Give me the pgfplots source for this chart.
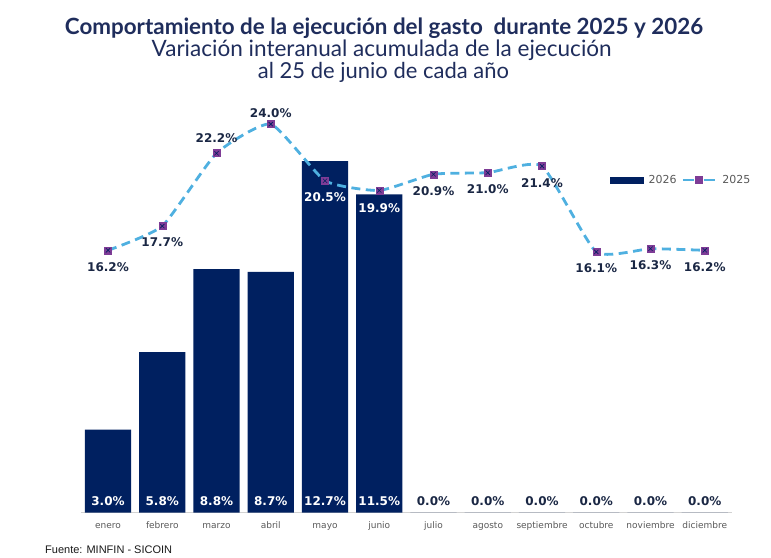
\documentclass[border=0pt]{standalone}
\usepackage{fontspec}
\setmainfont{DejaVu Sans}
\newfontfamily\latofont{Lato}
\newfontfamily\libsans{Liberation Sans}
\usepackage{pgfplots}
\pgfplotsset{compat=1.18}
\usepackage{pgfplotstable}

\definecolor{navy}{HTML}{002060}
\definecolor{titlecol}{HTML}{1F2D5C}
\definecolor{lineblue}{HTML}{4FB0E0}
\definecolor{mkpurple}{HTML}{7E3C96}
\definecolor{labdark}{HTML}{1A2744}
\definecolor{tickgrey}{HTML}{595959}

% 2026 bars: first six months (white labels), rest zero (dark labels)
\pgfplotstableread{
x v
0 3.0
1 5.8
2 8.8
3 8.7
4 12.7
5 11.5
}\barA
\pgfplotstableread{
x v
6 0.0
7 0.0
8 0.0
9 0.0
10 0.0
11 0.0
}\barB

% 2025 line
\pgfplotstableread{
x v
0 16.2
1 17.7
2 22.2
3 24.0
4 20.5
5 19.9
6 20.9
7 21.0
8 21.4
9 16.1
10 16.3
11 16.2
}\linedata
\pgfplotstableread{
x v dy
0 16.2 -16.5
1 17.7 -16.5
2 22.2 15
3 24.0 11
6 20.9 -17
7 21.0 -16.5
8 21.4 -17
9 16.1 -16.5
10 16.3 -16.7
11 16.2 -16.7
}\lineDark
\pgfplotstableread{
x v dy
4 20.5 -16.7
5 19.9 -17.2
}\lineWhite

\pgfplotsset{
  vallabels/.style={only marks, mark=none, forget plot,
    nodes near coords={\pgfmathprintnumber[fixed,fixed zerofill,precision=1,assume math mode=true]{\pgfplotspointmeta}\%},
    point meta=explicit,
    every node near coord/.append style={font=\bfseries\fontsize{12}{12}\selectfont, text=#1, anchor=center}},
  lineleg/.style={legend image code/.code={%
    \draw[##1, dash pattern=on 11pt off 10pt, mark repeat=2, mark phase=2] plot coordinates {(0pt,0pt) (16pt,0pt) (32pt,0pt)};
    \path (36pt,0pt);}},
  barleg/.style={legend image code/.code={\fill[navy] (0pt,-3pt) rectangle (33pt,3pt); \path (36pt,0pt);}},
}

\begin{document}
\begin{tikzpicture}[x=1pt,y=1pt]
\path[use as bounding box] (0,0) rectangle (771,557);

\begin{axis}[
  at={(80.9pt,44.5pt)}, anchor=south west,
  scale only axis, width=651pt, height=412.5pt,
  xmin=-0.5, xmax=11.5, ymin=0, ymax=14.91,
  axis y line=none, axis x line*=bottom,
  x axis line style={draw=gray!35, line width=0.8pt, -},
  xtick={0,...,11},
  xticklabels={enero,febrero,marzo,abril,mayo,junio,julio,agosto,septiembre,octubre,noviembre,diciembre},
  major tick length=0pt,
  xticklabel style={font=\fontsize{9}{10}\selectfont, text=tickgrey, anchor=base, yshift=-15.8pt},
  clip=false,
]
\addplot[ybar, bar width=0.85, fill=navy, draw=none] table[x=x,y=v]{\barA};
\addplot[ybar, bar width=0.85, fill=navy, draw=none] table[x=x,y=v]{\barB};
\addplot[vallabels=white, every node near coord/.append style={yshift=11.8pt}]
  table[x=x, y expr=0, meta=v]{\barA};
\addplot[vallabels=labdark, every node near coord/.append style={yshift=11.8pt}]
  table[x=x, y expr=0, meta=v]{\barB};
\end{axis}

\begin{axis}[
  at={(80.9pt,44.5pt)}, anchor=south west,
  scale only axis, width=651pt, height=412.5pt,
  xmin=-0.5, xmax=11.5, ymin=0, ymax=25.49,
  hide axis, clip=false,
  legend columns=2,
  legend style={at={(0.808,0.806)}, anchor=west, draw=none, fill=none,
    font=\fontsize{11}{12}\selectfont, text=tickgrey,
    /tikz/every even column/.append style={column sep=3pt}},
]
\addlegendimage{barleg}
\addlegendentry{2026}
\addplot[lineblue, line width=2.8pt, dash pattern=on 9pt off 5.5pt, smooth, tension=0.3,
  mark=square*, mark size=3.5pt,
  mark options={solid, fill=mkpurple, draw=mkpurple, line width=0.5pt},
  lineleg]
  table[x=x,y=v]{\linedata};
\addlegendentry{2025}
\addplot[forget plot, only marks, mark=x, mark size=3pt, mark options={draw=navy, line width=0.6pt}]
  table[x=x,y=v]{\linedata};
\addplot[vallabels=labdark,
  visualization depends on={\thisrow{dy}\as\mydy},
  every node near coord/.append style={yshift=\mydy pt}]
  table[x=x, y=v, meta=v]{\lineDark};
\addplot[vallabels=white,
  visualization depends on={\thisrow{dy}\as\mydy},
  every node near coord/.append style={yshift=\mydy pt}]
  table[x=x, y=v, meta=v]{\lineWhite};
\end{axis}

\node[anchor=base, text=titlecol] at (384,522) {\resizebox{638pt}{!}{\latofont\bfseries Comportamiento de la ejecución del gasto\ \ durante 2025 y 2026}};
\node[anchor=base, text=titlecol] at (381.7,500.3) {\resizebox{460pt}{!}{\latofont Variación interanual acumulada de la ejecución}};
\node[anchor=base, text=titlecol] at (383.5,478.7) {\resizebox{251pt}{!}{\latofont al 25 de junio de cada año}};
\node[anchor=base west, font=\libsans\fontsize{11}{12}\selectfont, text=black!90, inner sep=0pt] at (45,3.7) {Fuente: MINFIN - SICOIN};
\end{tikzpicture}
\end{document}
